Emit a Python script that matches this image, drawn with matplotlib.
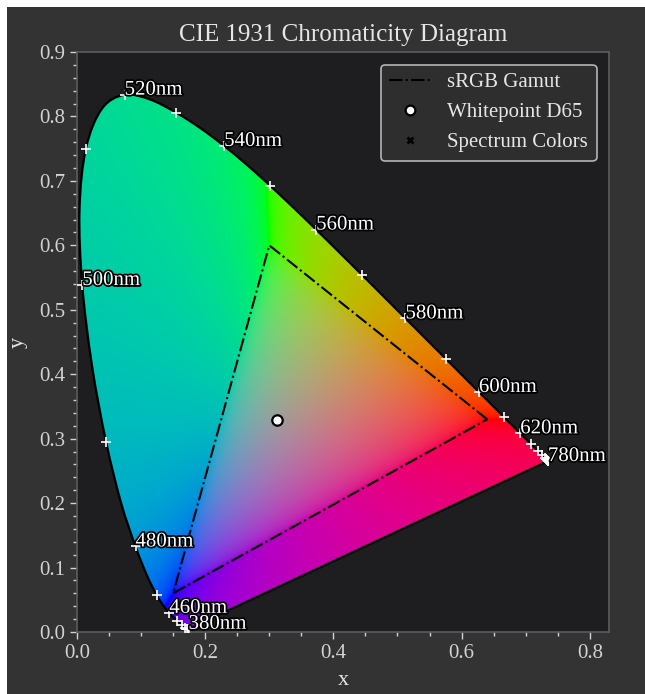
import numpy as np
import matplotlib
matplotlib.use("Agg")
import matplotlib.pyplot as plt
from matplotlib.patches import PathPatch, Rectangle
from matplotlib.path import Path
from matplotlib.lines import Line2D
from matplotlib.ticker import MultipleLocator, AutoMinorLocator
import matplotlib.patheffects as pe

# ---------------- data ----------------
wavelengths_nm = [380, 385, 390, 395, 400, 405, 410, 415, 420, 425, 430, 435, 440, 445,
                  450, 455, 460, 465, 470, 475, 480, 485, 490, 495, 500, 505, 510, 515,
                  520, 525, 530, 535, 540, 545, 550, 555, 560, 565, 570, 575, 580, 585,
                  590, 595, 600, 605, 610, 615, 620, 625, 630, 635, 640, 645, 650, 655,
                  660, 665, 670, 675, 680, 685, 690, 695, 700, 705, 710, 715, 720, 725,
                  730, 735, 740, 745, 750, 755, 760, 765, 770, 775, 780]
locus_x = [0.1741, 0.1740, 0.1738, 0.1736, 0.1733, 0.1730, 0.1726, 0.1721, 0.1714, 0.1703,
           0.1689, 0.1669, 0.1644, 0.1611, 0.1566, 0.1510, 0.1440, 0.1355, 0.1241, 0.1096,
           0.0913, 0.0687, 0.0454, 0.0235, 0.0082, 0.0039, 0.0139, 0.0389, 0.0743, 0.1142,
           0.1547, 0.1929, 0.2296, 0.2658, 0.3016, 0.3373, 0.3731, 0.4087, 0.4441, 0.4788,
           0.5125, 0.5448, 0.5752, 0.6029, 0.6270, 0.6482, 0.6658, 0.6801, 0.6915, 0.7006,
           0.7079, 0.7140, 0.7190, 0.7230, 0.7260, 0.7283, 0.7300, 0.7311, 0.7320, 0.7327,
           0.7334, 0.7340, 0.7344, 0.7346, 0.7347, 0.7347, 0.7347, 0.7347, 0.7347, 0.7347,
           0.7347, 0.7347, 0.7347, 0.7347, 0.7347, 0.7347, 0.7347, 0.7347, 0.7347, 0.7347,
           0.7347]
locus_y = [0.0050, 0.0050, 0.0049, 0.0049, 0.0048, 0.0048, 0.0048, 0.0048, 0.0051, 0.0058,
           0.0069, 0.0086, 0.0109, 0.0138, 0.0177, 0.0227, 0.0297, 0.0399, 0.0578, 0.0868,
           0.1327, 0.2007, 0.2950, 0.4127, 0.5384, 0.6548, 0.7502, 0.8120, 0.8338, 0.8262,
           0.8059, 0.7816, 0.7543, 0.7243, 0.6923, 0.6589, 0.6245, 0.5896, 0.5547, 0.5202,
           0.4866, 0.4544, 0.4242, 0.3965, 0.3725, 0.3514, 0.3340, 0.3197, 0.3083, 0.2993,
           0.2920, 0.2859, 0.2809, 0.2770, 0.2740, 0.2717, 0.2700, 0.2689, 0.2680, 0.2673,
           0.2666, 0.2660, 0.2656, 0.2654, 0.2653, 0.2653, 0.2653, 0.2653, 0.2653, 0.2653,
           0.2653, 0.2653, 0.2653, 0.2653, 0.2653, 0.2653, 0.2653, 0.2653, 0.2653, 0.2653,
           0.2653]
label_nm = [380, 460, 480, 500, 520, 540, 560, 580, 600, 620, 780]
gamut_x = [0.64, 0.30, 0.15]
gamut_y = [0.33, 0.60, 0.06]
whitepoint_xy = [0.3127, 0.3290]

# ---------------- style ----------------
plt.rcParams["font.family"] = ["Liberation Serif", "DejaVu Serif"]
FIG_BG = "#333333"
AX_BG = "#1e1e21"
TXT = "#e6e6e6"
TICK = "#d2d2d2"

fig = plt.figure(figsize=(6.45, 6.94), dpi=100, facecolor="white")
fig.patches.append(Rectangle((7 / 645, 0), 1, 1 - 7 / 694, transform=fig.transFigure,
                             facecolor=FIG_BG, edgecolor="none", zorder=-10))
ax = fig.add_axes([77 / 645, (694 - 632) / 694, 532 / 645, 580 / 694])
ax.set_facecolor(AX_BG)
ax.set_xlim(0, 0.83)
ax.set_ylim(0, 0.9)

lx = np.array(locus_x)
ly = np.array(locus_y)
wl = np.array(wavelengths_nm)

# ---------------- smooth outline path (Bezier through the locus points) ----------------
P = np.column_stack([lx, ly])
verts = [P[0]]
codes = [Path.MOVETO]
n = len(P)
for i in range(n - 1):
    p0 = P[max(i - 1, 0)]
    p1 = P[i]
    p2 = P[i + 1]
    p3 = P[min(i + 2, n - 1)]
    verts += [p1 + (p2 - p0) / 6.0, p2 - (p3 - p1) / 6.0, p2]
    codes += [Path.CURVE4, Path.CURVE4, Path.CURVE4]
verts += [P[0], P[0]]
codes += [Path.LINETO, Path.CLOSEPOLY]
outline = Path(np.array(verts), codes)

# ---------------- coloured horseshoe ----------------
nx, ny = 830, 900
gx = np.linspace(0, 0.83, nx)
gy = np.linspace(0, 0.9, ny)
GX, GY = np.meshgrid(gx, gy)
GYs = np.maximum(GY, 1e-3)
XYZ = np.stack([GX / GYs, np.ones_like(GX), (1 - GX - GY) / GYs], axis=-1)
M = np.array([[3.2406, -1.5372, -0.4986],
              [-0.9689, 1.8758, 0.0415],
              [0.0557, -0.2040, 1.0570]])
rgb = XYZ @ M.T
mn = np.minimum(rgb.min(axis=-1, keepdims=True), 0)
rgb = rgb - mn
rgb = rgb / np.maximum(rgb.sum(axis=-1, keepdims=True), 1e-9)
rgb = np.clip(rgb, 0, 1)
rgb = np.where(rgb <= 0.0031308, 12.92 * rgb, 1.055 * rgb ** (1 / 2.4) - 0.055)
rgb = np.clip(rgb, 0, 1)

im = ax.imshow(rgb, origin="lower", extent=[0, 0.83, 0, 0.9], aspect="auto",
               interpolation="bilinear", zorder=1)
patch = PathPatch(outline, facecolor="none", edgecolor="black", linewidth=1.6,
                  joinstyle="round", zorder=3)
ax.add_patch(patch)
im.set_clip_path(patch)

# ---------------- gamut & whitepoint ----------------
ax.plot(gamut_x + gamut_x[:1], gamut_y + gamut_y[:1], linestyle="-.", color="black",
        linewidth=1.5, zorder=4)
ax.plot([whitepoint_xy[0]], [whitepoint_xy[1]], "o", markersize=7.5,
        markerfacecolor="white", markeredgecolor="black", markeredgewidth=1.6, zorder=6)

# ---------------- spectrum markers & labels ----------------
sel = wl % 10 == 0
ax.plot(lx[sel], ly[sel], "+", color="white", markersize=7, markeredgewidth=1.2,
        linestyle="none", zorder=5)
stroke = [pe.withStroke(linewidth=2.5, foreground="black")]
for nm in label_nm:
    i = wavelengths_nm.index(nm)
    ax.text(locus_x[i], locus_y[i], f"{nm}nm", color="white", fontsize=15,
            ha="left", va="baseline", path_effects=stroke, zorder=7)

# ---------------- axes styling ----------------
ax.xaxis.set_major_locator(MultipleLocator(0.2))
ax.xaxis.set_minor_locator(AutoMinorLocator(4))
ax.yaxis.set_major_locator(MultipleLocator(0.1))
ax.yaxis.set_minor_locator(AutoMinorLocator(5))
ax.tick_params(axis="both", which="major", colors=TICK, labelsize=15, length=5, width=1)
ax.tick_params(axis="both", which="minor", colors=TICK, length=3, width=1)
for s in ax.spines.values():
    s.set_color("#5c5c5c")
    s.set_linewidth(1.2)
ax.set_xlabel("x", color=TXT, fontsize=16, labelpad=6)
ax.set_ylabel("y", color=TXT, fontsize=16, labelpad=8)
ax.set_title("CIE 1931 Chromaticity Diagram", color=TXT, fontsize=18, pad=8)

handles = [
    Line2D([], [], linestyle="-.", color="black", linewidth=1.5),
    Line2D([], [], marker="o", linestyle="none", markersize=7, markerfacecolor="white",
           markeredgecolor="black", markeredgewidth=1.6),
    Line2D([], [], marker="x", linestyle="none", markersize=5, color="black",
           markeredgewidth=2),
]
leg = ax.legend(handles, ["sRGB Gamut", "Whitepoint D65", "Spectrum Colors"],
                loc="upper right", fontsize=15, facecolor="#2e2e2e", edgecolor="#b4b4b4",
                framealpha=1, labelcolor=TXT, fancybox=True, borderaxespad=0.6)
leg.get_frame().set_linewidth(1.2)
leg.set_zorder(10)

fig.savefig("out.png", dpi=100, facecolor=fig.get_facecolor())
